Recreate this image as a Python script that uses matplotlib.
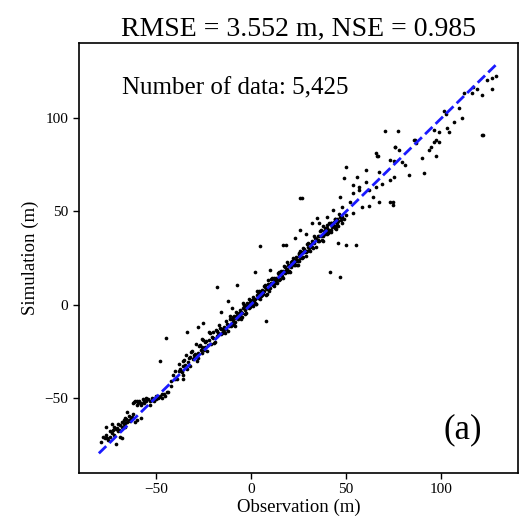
import matplotlib
matplotlib.use("Agg")
import matplotlib.pyplot as plt

plt.rcParams['font.family'] = ['Liberation Serif', 'DejaVu Serif']

# lower-left cluster
obs_low = [-79, -77, -76, -75, -74, -74, -73, -72, -72, -71, -70, -70, -69, -69, -68, -68, -67, -67,
           -66, -66, -65, -64, -64, -63, -62, -61, -60, -76, -73, -71, -68, -78, -65, -58,
           -75.5, -72.5, -70.5, -69.5, -66.5, -65.5, -63.5, -62.5]
sim_low = [-74, -72, -70, -73, -68, -71, -69, -66, -70, -67, -64, -68, -65, -71, -63, -66, -62, -64,
           -61, -66, -63, -60, -62, -61, -59, -63, -62, -66, -64, -75, -72, -71, -58, -61,
           -71.5, -67.5, -66.5, -67.5, -63.5, -61.5, -62.5, -60.5]

# flat band near -52 m
obs_flat = [-62, -61, -60, -59, -58, -57, -56, -55, -54, -53, -52, -51, -50, -49, -48, -47, -46, -45,
            -44, -55, -50, -58, -60, -53, -47, -43.5, -61.5, -59.5, -56.5, -54.5, -51.5, -48.5]
sim_flat = [-53, -52, -54, -52, -53, -51, -53, -52, -51, -52, -50, -52, -51, -50, -49, -50, -48, -49,
            -47, -50, -49, -54, -52, -54, -48, -47, -52.5, -53, -52, -51, -51, -49.5]

# main band along the 1:1 line
obs_band = [-42, -42, -41, -40, -40, -39, -38, -38, -37, -36, -36, -35, -34, -34, -33, -32, -32, -31,
            -30, -30, -29, -28, -28, -27, -26, -26, -25, -24, -24, -23, -22, -22, -21, -20, -20, -19,
            -18, -18, -17, -16, -16, -15,
            -14, -14, -13, -13, -12, -12, -11, -11, -10, -10, -9, -9, -8, -8, -7, -7, -6, -6, -5, -5,
            -4, -4, -3, -3, -2, -2, -1, -1, 0, 0, 1, 1, 2, 2, 3, 3, 4, 4, 5, 5, 6, 6, 7, 7, 8, 8,
            9, 9, 10, 10, 11, 11, 12, 12, 13, 13, 14, 14, 15, 15, 16, 16, 17, 17, 18, 18, 19, 19,
            20, 20, 21, 21, 22, 22, 23, 23, 24, 24, 25, 25, 26, 26, 27, 27, 28, 28, 29, 29, 30, 30,
            31, 31, 32, 32, 33, 33, 34, 34, 35, 35, 36, 36, 37, 37, 38, 38, 39, 39, 40, 40, 41, 41,
            42, 42, 43, 43, 44, 44, 45, 45]
sim_band = [-41, -44, -38, -40, -36, -40, -36, -32, -36, -33, -38, -30, -34, -27, -31, -28, -33, -25,
            -29, -27, -21, -26, -29, -22, -23, -26, -19, -23, -20, -25, -19, -15, -21, -18, -15, -20,
            -14, -17, -11, -16, -13, -13,
            -12, -15, -9, -13, -11, -14, -8, -6, -10, -8, -11, -6, -7, -4, -8, -5, -3, -6, -8, -4,
            -2, 1, -3, -5, -1, 1, -2, 3, 2, 0, -1, 4, 3, 1, 7, 5, 4, 7, 3, 6, 8, 5, 10, 7, 9, 5,
            11, 13, 9, 11, 11, 14, 14, 10, 12, 14, 17, 14, 16, 13, 16, 18, 14, 18, 20, 17, 23, 19,
            21, 18, 20, 23, 25, 22, 21, 24, 24, 21, 27, 26, 25, 29, 28, 25, 28, 30, 26, 28, 31, 33,
            29, 31, 34, 31, 33, 37, 31, 35, 34, 37, 37, 34, 40, 37, 34, 37, 39, 41, 41, 38, 40, 44,
            44, 39, 43, 44, 42, 46, 46, 44]

# second layer of the band (half-metre positions)
obs_band2 = [-37.5, -36.5, -35.5, -34.5, -33.5, -32.5, -31.5, -30.5, -29.5, -28.5, -27.5, -26.5,
             -25.5, -24.5, -23.5, -22.5, -21.5, -20.5, -19.5, -18.5, -17.5, -16.5, -15.5, -14.5,
             -13.5, -12.5, -11.5, -10.5, -9.5, -8.5, -7.5, -6.5, -5.5, -4.5, -3.5, -2.5, -1.5, -0.5,
             0.5, 1.5, 2.5, 3.5, 4.5, 5.5, 6.5, 7.5, 8.5, 9.5, 10.5, 11.5, 12.5, 13.5, 14.5, 15.5,
             16.5, 17.5, 18.5, 19.5, 20.5, 21.5, 22.5, 23.5, 24.5, 25.5, 26.5, 27.5, 28.5, 29.5,
             30.5, 31.5, 32.5, 33.5, 34.5, 35.5, 36.5, 37.5, 38.5, 39.5, 40.5, 41.5, 42.5, 43.5,
             44.5, 45.5, 46.5, 47.5]
sim_band2 = [-34.5, -36.5, -30.5, -32.5, -34.5, -28.5, -25.5, -29.5, -26.5, -30.5, -22.5, -24.5,
             -18.5, -24.5, -19.5, -21.5, -15.5, -17.5, -20.5, -13.5, -15.5, -12.5, -15.5, -13.5,
             -15.5, -10.5, -11.5, -11.5, -6.5, -11.5, -6.5, -4.5, -6.5, -4.5, -0.5, -4.5, -0.5, -1.5,
             2.5, 1.5, 0.5, 6.5, 5.5, 4.5, 6.5, 9.5, 5.5, 10.5, 13.5, 10.5, 12.5, 11.5, 16.5, 16.5,
             15.5, 20.5, 18.5, 17.5, 21.5, 23.5, 21.5, 23.5, 21.5, 27.5, 27.5, 25.5, 28.5, 32.5,
             29.5, 32.5, 30.5, 35.5, 34.5, 34.5, 39.5, 34.5, 39.5, 39.5, 38.5, 43.5, 41.5, 44.5,
             40.5, 45.5, 48.5, 45.5]

# densest core
obs_core = [-9.5, -8.5, -7.5, -6.5, -5.5, -4.5, -3.5, -2.5, -1.5, -0.5, 0.5, 1.5, 2.5, 3.5, 4.5, 5.5,
            6.5, 7.5, 8.5, 9.5, 10.5, 11.5, 12.5, 13.5, 14.5, 15.5, 16.5, 17.5, 18.5, 19.5, 20.5,
            21.5, 22.5, 23.5, 24.5, 25.5, 26.5, 27.5, 28.5, 29.5,
            38, 40, 42, 44, 45, 46, 47, 48, 49, 50, 42, 44, 46, 39, 41]
sim_core = [-8.5, -9.5, -5.5, -6.5, -4.5, -6.5, -0.5, -1.5, -1.5, 1.5, -0.5, 2.5, 0.5, 3.5, 6.5, 6.5,
            5.5, 10.5, 8.5, 7.5, 11.5, 13.5, 11.5, 13.5, 17.5, 13.5, 17.5, 17.5, 17.5, 21.5, 17.5,
            22.5, 22.5, 25.5, 23.5, 23.5, 27.5, 30.5, 28.5, 28.5,
            42, 43, 44, 46, 43, 45, 47, 44, 46, 48, 40, 41, 42, 38, 39]

# scattered points at high values
obs_high = [34.5, 36, 25.6, 23, 29, 32, 40, 43, 48, 52, 53.4, 46.6, 49, 53.4, 57, 60.7, 48, 53.4, 58.6,
            62, 57, 62, 66, 69, 73, 75.4, 64, 67.5, 74.5, 56, 60.7, 67.5, 66, 67, 73, 75, 79.6, 81,
            76, 78, 83, 91, 90, 97.4, 93.7, 87, 86.5, 97.4, 99, 103, 107, 111, 102.6, 101.6, 109.5,
            112, 116, 121.5, 117, 119, 124, 127, 129, 127, 96.3, 104, 94.8, 99, 96, 86, 122]
sim_high = [46.6, 43.6, 40, 35.7, 38, 44, 47, 51, 52.5, 55, 60, 58, 68, 64.3, 63, 66, 47, 49, 52.5,
            53, 61.6, 61.6, 63, 65, 67, 68.6, 58, 55, 53.6, 68.6, 72.3, 71.3, 81.5, 80, 77.7, 77, 76.6,
            75, 84.7, 83, 69.7, 70.7, 79, 80, 83, 86.8, 88.4, 88.4, 92.7, 95, 98, 100, 102.6, 104,
            105.6, 113.6, 113.6, 112.5, 117, 116, 120.6, 121.6, 123, 116, 93.8, 92.7, 84.7, 87.4,
            87.4, 88.4, 91]

# outliers
obs_out = [-44.5, -47.6, -35.6, -33.5, -28, -25, -18, -7.5, -12, -16, -10, 5, 16.8, 18.5, 2, 10,
           41.4, 47, 8, 26, 27, 50, 66.5, 76, 74.5, 70.7, 77.5, 121.5, 46, 50, 55.5, 73]
sim_out = [-18, -30.5, -40, -15, -12, -10, 9.6, 10.7, 2, -4, -2, 31.6, 32, 32, 17.6, 18.7,
           17.7, 15, -8.6, 57, 57, 74, 80, 84.5, 55, 93.2, 93, 91, 33, 32, 32, 55]

line_ends = [-80, 130]

obs = obs_low + obs_flat + obs_band + obs_band2 + obs_core + obs_high + obs_out
sim = sim_low + sim_flat + sim_band + sim_band2 + sim_core + sim_high + sim_out

fig = plt.figure(figsize=(5.26, 5.26), dpi=100)
ax = fig.add_axes([0.150, 0.101, 0.835, 0.817])
ax.scatter(obs, sim, s=7, c='black', marker='o', linewidths=0, zorder=2)
ax.plot(line_ends, line_ends, '--', color='#1a1aff', lw=2, zorder=3)

ax.set_xticks([-50, 0, 50, 100])
ax.set_yticks([-50, 0, 50, 100])
ax.tick_params(labelsize=11, direction='out', length=4, width=1)
for s in ax.spines.values():
    s.set_linewidth(1.2)
ax.set_xlabel("Observation (m)", fontsize=13.5, labelpad=2)
ax.set_ylabel("Simulation (m)", fontsize=13.5, labelpad=4)
ax.set_title("RMSE = 3.552 m, NSE = 0.985", fontsize=20, pad=5)
ax.text(0.098, 0.895, "Number of data: 5,425", transform=ax.transAxes, fontsize=18, va='center')
ax.text(0.875, 0.10, "(a)", transform=ax.transAxes, fontsize=25, ha='center', va='center')

fig.savefig("out.png", dpi=100)
